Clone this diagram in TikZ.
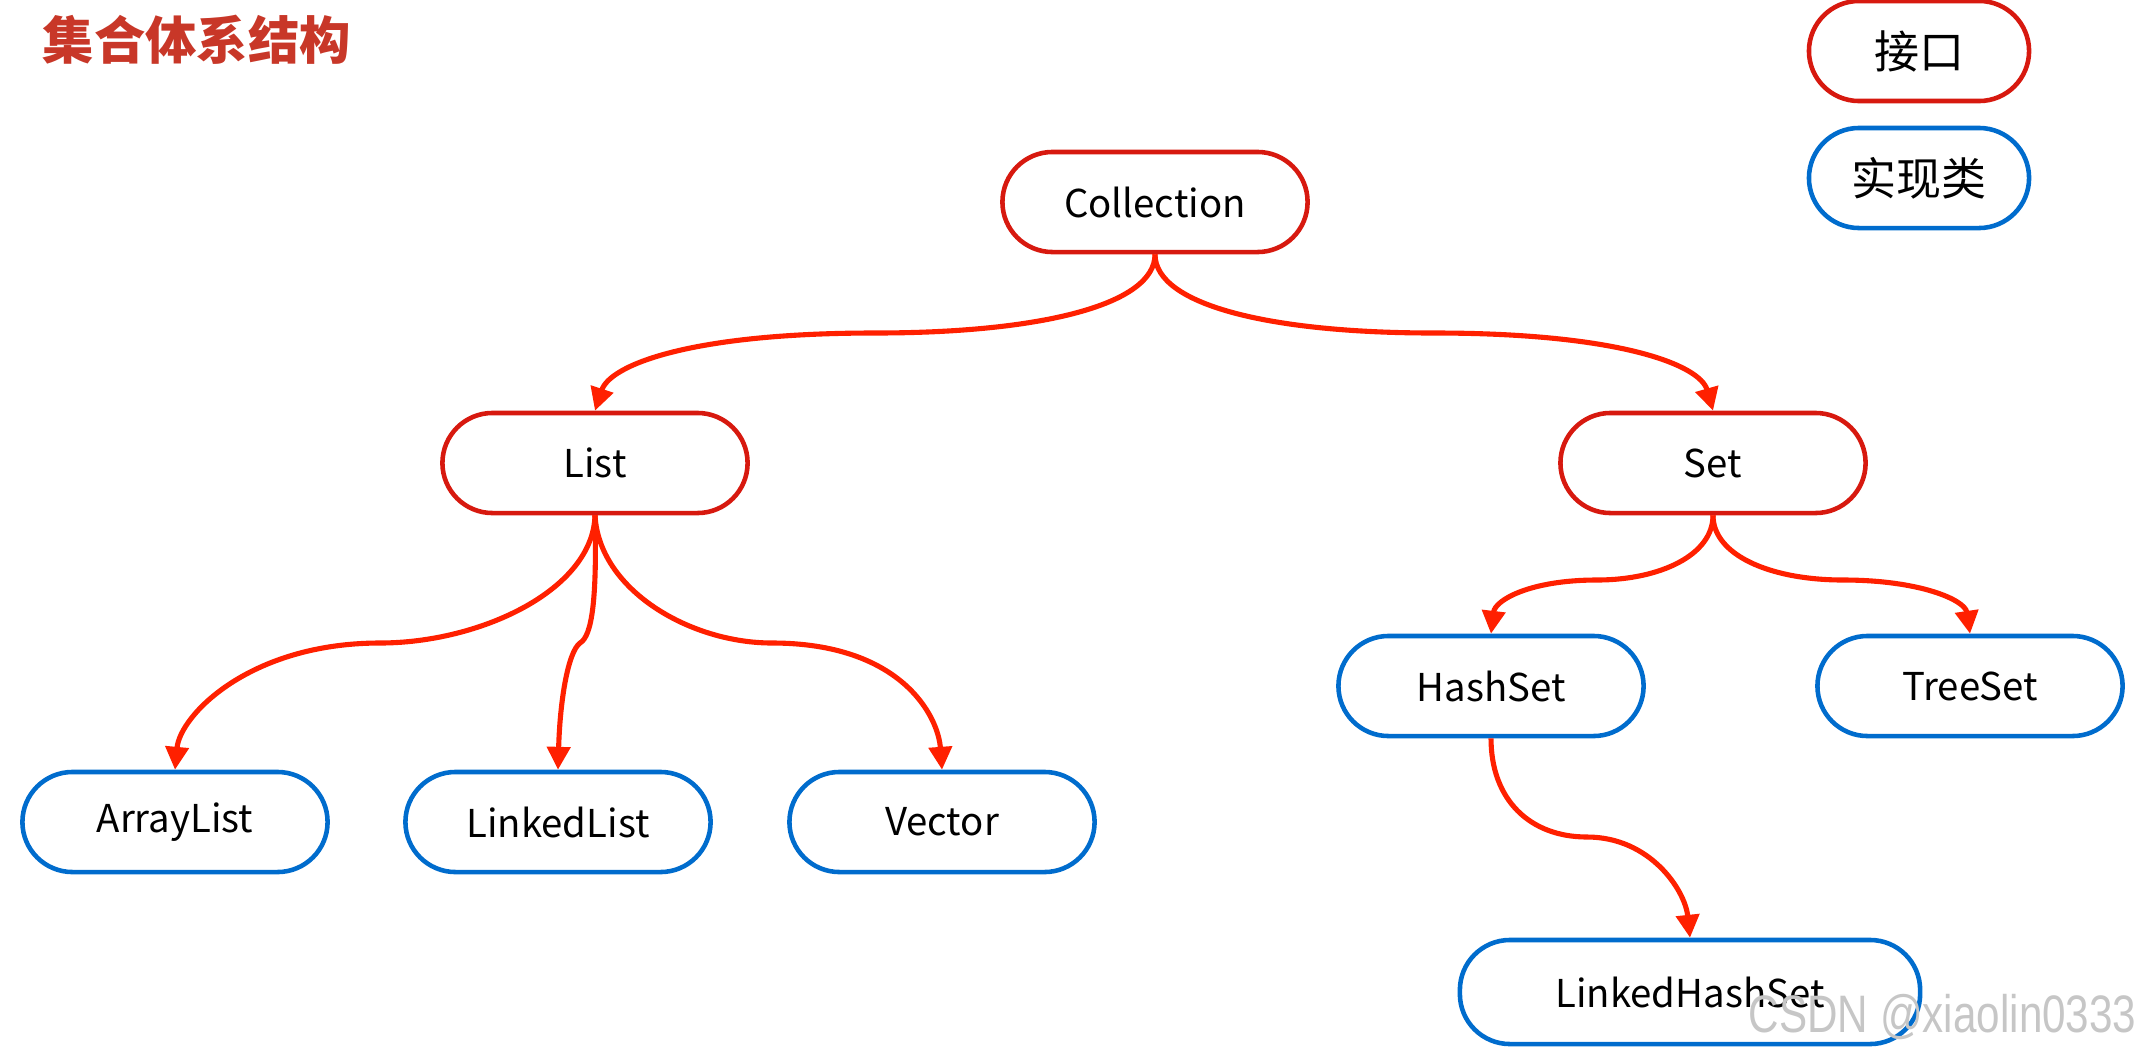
\documentclass[tikz,border=0pt]{standalone}
\usepackage{fontspec}
\setmainfont{Noto Sans CJK SC}
\newfontfamily\wmfont{Liberation Sans}
\usetikzlibrary{arrows.meta}
\definecolor{ifred}{RGB}{215,25,15}
\definecolor{implblue}{RGB}{0,108,205}
\definecolor{arrred}{RGB}{255,32,0}
\definecolor{titlered}{RGB}{200,55,40}
\begin{document}
\begin{tikzpicture}[x=0.01cm,y=-0.01cm,
  box/.style={rectangle, rounded corners=0.5cm, minimum width=3.05cm, minimum height=1cm,
    line width=1.3pt, fill=white, inner sep=0pt, font=\fontsize{10.9}{13}\selectfont},
  iface/.style={box, draw=ifred},
  impl/.style={box, draw=implblue},
  legend/.style={box, minimum width=2.2cm, font=\fontsize{12.8}{14}\selectfont},
  link/.style={draw=arrred, line width=1.45pt, -{Triangle[length=6.5pt,width=6.5pt]}}
]
\useasboundingbox (0,0) rectangle (2137,1054);

% title
\node[anchor=west, text=titlered, font=\fontsize{14.6}{16}\selectfont\bfseries, inner sep=0pt] (title) at (42,40) {集合体系结构};

% legend
\node[legend, draw=ifred] (lgif) at (1919,51) {接口};
\node[legend, draw=implblue] (lgimpl) at (1919,178) {实现类};

% nodes
\node[iface] (Collection) at (1155,202) {Collection};
\node[iface] (List) at (595,463) {List};
\node[iface] (Set) at (1713,463) {Set};
\node[impl] (ArrayList) at (175,822) {ArrayList};
\node[impl] (LinkedList) at (558,822) {LinkedList};
\node[impl] (Vector) at (942,822) {Vector};
\node[impl] (HashSet) at (1491,686) {HashSet};
\node[impl] (TreeSet) at (1970,686) {TreeSet};
\node[impl, minimum width=4.6cm, minimum height=1.04cm] (LinkedHashSet) at (1690,992) {LinkedHashSet};

% connectors
\draw[link] (Collection.south) .. controls (1155,305) and (1040,333) .. (875,333)
  .. controls (690,333) and (610,365) .. (List.north);
\draw[link] (Collection.south) .. controls (1155,305) and (1270,333) .. (1434,333)
  .. controls (1620,333) and (1700,365) .. (Set.north);
\draw[link] (List.south) .. controls (593,590) and (480,643) .. (380,643)
  .. controls (250,643) and (180,715) .. (ArrayList.north);
\draw[link] (List.south) .. controls (597,600) and (592,636) .. (580,643)
  .. controls (568,652) and (560,700) .. (LinkedList.north);
\draw[link] (List.south) .. controls (599,590) and (690,643) .. (772,643)
  .. controls (900,643) and (938,715) .. (Vector.north);
\draw[link] (Set.south) .. controls (1713,555) and (1660,580) .. (1597,580)
  .. controls (1530,580) and (1495,600) .. (HashSet.north);
\draw[link] (Set.south) .. controls (1713,555) and (1770,580) .. (1843,580)
  .. controls (1920,580) and (1965,600) .. (TreeSet.north);
\draw[link] (HashSet.south) .. controls (1491,800) and (1530,837) .. (1587,837)
  .. controls (1650,837) and (1685,890) .. (LinkedHashSet.north);

% watermark
\node[anchor=south east, text=gray!45, inner sep=0pt, xscale=0.8,
  font=\wmfont\fontsize{15}{15}\selectfont] (wm) at (2137,1040) {CSDN @xiaolin0333};
\end{tikzpicture}
\end{document}
